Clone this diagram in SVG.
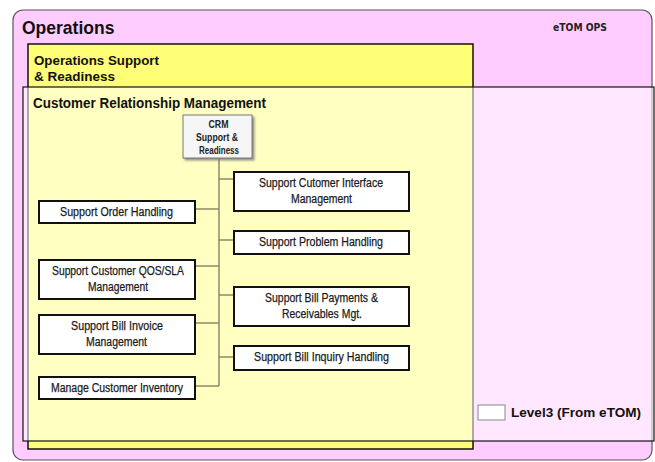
<svg xmlns="http://www.w3.org/2000/svg" width="655" height="462" viewBox="0 0 655 462">
  <style>
    .title { font-family: "Liberation Sans", Arial, sans-serif; font-weight: bold; fill: #111; }
    .box rect { fill: #ffffff; stroke: #111; stroke-width: 2; }
    .box text { font-family: "Liberation Sans", Arial, sans-serif; font-size: 12.5px; fill: #1a1a1a; stroke: #1a1a1a; stroke-width: 0.25; text-anchor: middle; }
    .small { font-family: "Liberation Sans", Arial, sans-serif; font-weight: bold; font-size: 10px; fill: #222; text-anchor: middle; }
    .conn { stroke: #8c8a66; stroke-width: 1.5; fill: none; }
  </style>
  <defs>
    <filter id="shadow" x="-10%" y="-10%" width="130%" height="130%">
      <feDropShadow dx="2" dy="2" stdDeviation="0.8" flood-color="#777" flood-opacity="0.8"/>
    </filter>
  </defs>

  <rect x="0" y="0" width="655" height="462" fill="#ffffff"/>

  <!-- Operations area -->
  <g id="operations">
    <rect x="13" y="10" width="639" height="450" rx="10" ry="10" fill="#ffccff" stroke="#555" stroke-width="1.2"/>
    <text class="title" x="22" y="34" font-size="17.5">Operations</text>
    <text x="553" y="31" font-family="'DejaVu Sans Condensed', 'DejaVu Sans', sans-serif" font-weight="bold" font-size="10" fill="#222" textLength="54" lengthAdjust="spacingAndGlyphs">eTOM OPS</text>
  </g>

  <!-- Operations Support & Readiness -->
  <g id="osr">
    <rect x="28" y="44" width="445" height="405" fill="#ffff77" stroke="#111" stroke-width="1.5"/>
    <text class="title" x="34" y="65" font-size="13.5" textLength="125" lengthAdjust="spacingAndGlyphs">Operations Support</text>
    <text class="title" x="34" y="81" font-size="13.5">&amp; Readiness</text>
  </g>

  <!-- Customer Relationship Management (translucent overlay) -->
  <g id="crm">
    <rect x="23" y="87" width="631" height="354" fill="#ffffff" fill-opacity="0.55" stroke="#111" stroke-width="1.2"/>
    <text class="title" x="33" y="108" font-size="14" textLength="233" lengthAdjust="spacingAndGlyphs">Customer Relationship Management</text>
  </g>

  <!-- Connectors -->
  <g id="connectors">
    <path class="conn" d="M219 158 V386"/>
    <path class="conn" d="M219 179 H234"/>
    <path class="conn" d="M219 240 H234"/>
    <path class="conn" d="M219 295 H234"/>
    <path class="conn" d="M219 357 H234"/>
    <path class="conn" d="M195 209 H219"/>
    <path class="conn" d="M195 266 H219"/>
    <path class="conn" d="M195 323 H219"/>
    <path class="conn" d="M195 386 H219"/>
  </g>

  <!-- CRM Support & Readiness -->
  <g id="crm-sr">
    <rect x="183" y="115" width="69" height="43" fill="#f6f6f6" stroke="#777" stroke-width="1" filter="url(#shadow)"/>
    <text class="small" x="218.5" y="128" textLength="20" lengthAdjust="spacingAndGlyphs">CRM</text>
    <text class="small" x="217" y="141" textLength="42" lengthAdjust="spacingAndGlyphs">Support &amp;</text>
    <text class="small" x="219" y="154" textLength="40" lengthAdjust="spacingAndGlyphs">Readiness</text>
  </g>

  <!-- Right column -->
  <g id="sup-cust-interface" class="box">
    <rect x="234" y="172" width="175" height="39"/>
    <text x="321" y="187" textLength="124" lengthAdjust="spacingAndGlyphs">Support Cutomer Interface</text>
    <text x="321.5" y="203" textLength="61" lengthAdjust="spacingAndGlyphs">Management</text>
  </g>
  <g id="sup-problem" class="box">
    <rect x="234" y="231" width="175" height="23"/>
    <text x="321" y="246" textLength="124" lengthAdjust="spacingAndGlyphs">Support Problem Handling</text>
  </g>
  <g id="sup-bill-payments" class="box">
    <rect x="234" y="287" width="175" height="39"/>
    <text x="321.5" y="302" textLength="113" lengthAdjust="spacingAndGlyphs">Support Bill Payments &amp;</text>
    <text x="322" y="318" textLength="80" lengthAdjust="spacingAndGlyphs">Receivables Mgt.</text>
  </g>
  <g id="sup-bill-inquiry" class="box">
    <rect x="234" y="346" width="175" height="24"/>
    <text x="321.5" y="361" textLength="135" lengthAdjust="spacingAndGlyphs">Support Bill Inquiry Handling</text>
  </g>

  <!-- Left column -->
  <g id="sup-order" class="box">
    <rect x="39" y="201" width="156" height="22"/>
    <text x="116.5" y="216" textLength="113" lengthAdjust="spacingAndGlyphs">Support Order Handling</text>
  </g>
  <g id="sup-qos-sla" class="box">
    <rect x="39" y="260" width="156" height="39"/>
    <text x="118" y="275" textLength="132" lengthAdjust="spacingAndGlyphs">Support Customer QOS/SLA</text>
    <text x="118" y="291" textLength="60" lengthAdjust="spacingAndGlyphs">Management</text>
  </g>
  <g id="sup-bill-invoice" class="box">
    <rect x="39" y="315" width="156" height="39"/>
    <text x="117" y="330" textLength="92" lengthAdjust="spacingAndGlyphs">Support Bill Invoice</text>
    <text x="116.5" y="346" textLength="61" lengthAdjust="spacingAndGlyphs">Management</text>
  </g>
  <g id="manage-inventory" class="box">
    <rect x="39" y="377" width="156" height="22"/>
    <text x="117" y="392" textLength="132" lengthAdjust="spacingAndGlyphs">Manage Customer Inventory</text>
  </g>

  <!-- Legend -->
  <g id="legend">
    <rect x="478" y="405" width="27" height="15" fill="#ffffff" stroke="#888" stroke-width="1"/>
    <text class="title" x="511" y="417" font-size="12.5" textLength="130" lengthAdjust="spacingAndGlyphs">Level3 (From eTOM)</text>
  </g>
</svg>
